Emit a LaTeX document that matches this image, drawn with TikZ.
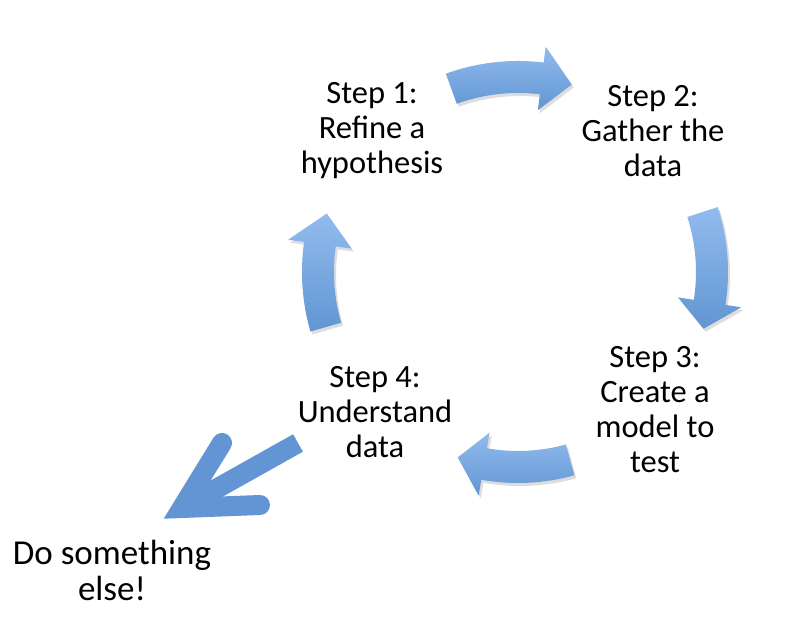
\documentclass[tikz,border=0pt]{standalone}
\usepackage{fontspec}
\setmainfont{Carlito}
\definecolor{arrtop}{HTML}{92BBEE}
\definecolor{arrbot}{HTML}{6196D2}
\definecolor{bigarr}{HTML}{6394D3}
\tikzset{
  steptext/.style={align=center, font=\fontsize{32.5}{35}\selectfont, text=black},
  elsetext/.style={align=center, font=\fontsize{35}{36}\selectfont, text=black},
  cycarrow/.style={top color=arrtop, bottom color=arrbot, draw=none},
  arrshadow/.style={fill=black!22, draw=none, opacity=0.6}
}
% #1 start angle, #2 head base angle, #3 tip angle, #4 radius
\newcommand{\cyclearrowpath}[4]{(#1:#4+16) arc[start angle=#1, end angle=#2, radius=#4+16] -- (#2:#4+32) -- (#3:#4) -- (#2:#4-32) -- (#2:#4-16) arc[start angle=#2, end angle=#1, radius=#4-16] -- cycle}
\newcommand{\cyclearrow}[4]{%
  \fill[arrshadow, shift={(2,-3)}] \cyclearrowpath{#1}{#2}{#3}{#4};
  \shade[cycarrow] \cyclearrowpath{#1}{#2}{#3}{#4};}
\begin{document}
\begin{tikzpicture}[x=1pt, y=1pt]
\useasboundingbox (0,0) rectangle (800,617);
\fill[white] (0,0) rectangle (800,617);

\begin{scope}[shift={(518,345)}]
  \cyclearrow{110}{83}{74}{195}
  \cyclearrow{18}{-9}{-17}{194}
  \cyclearrow{-74.5}{-100}{-108}{195}
  \cyclearrow{196}{172}{163}{200}
\end{scope}

\node[steptext] (s1) at (372,486) {Step 1:\\Refine a\\hypothesis};
\node[steptext] (s2) at (653,486) {Step 2:\\Gather the\\data};
\node[steptext] (s3) at (655,207) {Step 3:\\Create a\\model to\\test};
\node[steptext] (s4) at (375,205) {Step 4:\\Understand\\data};
\node[elsetext] (else) at (112,47) {Do something\\else!};

% big exit arrow
\coordinate (tail) at (298,174);
\coordinate (tip) at (182,109);
\coordinate (barbA) at (222,174);
\coordinate (barbB) at (260,112);
\draw[bigarr, line width=20pt, line cap=butt] (tail) -- (tip);
\draw[bigarr, line width=20pt, line cap=round, line join=miter] (barbA) -- (tip) -- (barbB);
\end{tikzpicture}
\end{document}
